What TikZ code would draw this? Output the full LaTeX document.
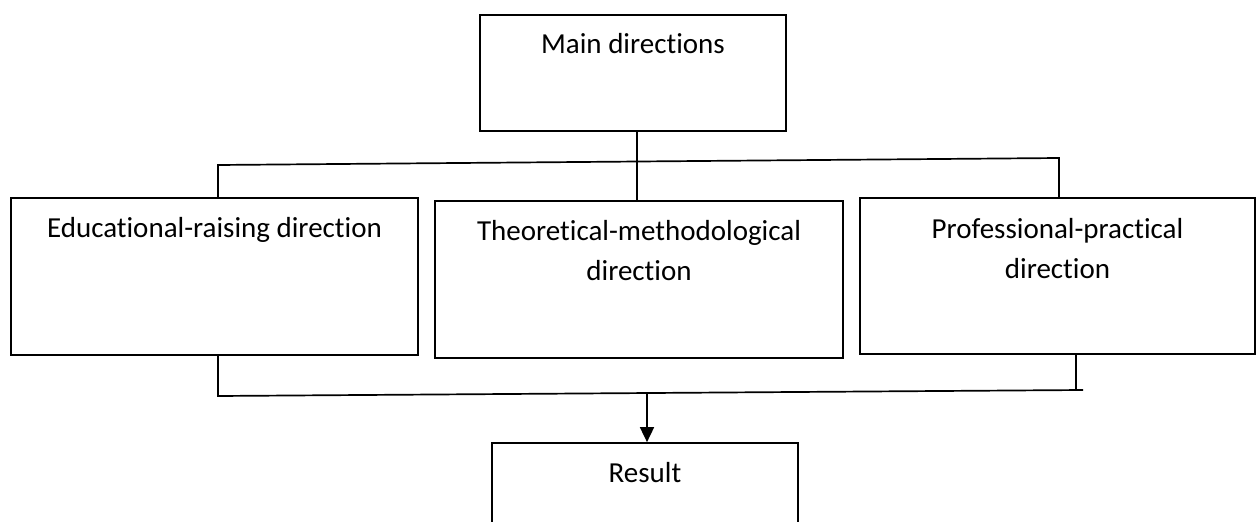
\documentclass[tikz,border=0pt]{standalone}
\usepackage{fontspec}
\setmainfont{Carlito}[Ligatures={NoCommon}]
\usetikzlibrary{arrows.meta}
\begin{document}
\begin{tikzpicture}[x=1pt,y=-1pt,
  box/.style={draw, line width=1.7pt, rectangle, inner sep=0pt},
  txt/.style={anchor=base, align=center, inner sep=0pt, font=\fontsize{29}{40}\selectfont},
  wire/.style={line width=1.7pt}]
\useasboundingbox (0,0) rectangle (1256,522);
\clip (0,0) rectangle (1256,522);
\fill[white] (0,0) rectangle (1256,522);
% boxes
\node[box, minimum width=306pt, minimum height=116pt] (main) at (633,73) {};
\node[box, minimum width=407pt, minimum height=157pt] (left) at (214.5,276.5) {};
\node[box, minimum width=408pt, minimum height=157pt] (mid) at (639,279.5) {};
\node[box, minimum width=395pt, minimum height=156pt] (right) at (1057.5,276) {};
\node[box, minimum width=306pt, minimum height=130pt] (res) at (645,508) {};
% texts
\node[txt] (tmain) at (633,53) {Main directions};
\node[txt] (tleft) at (214.5,237) {Educational-raising direction};
\node[txt] (tmid) at (639,280) {Theoretical-methodological\\direction};
\node[txt] (tright) at (1057.5,278) {Professional-practical\\direction};
\node[txt] (tres) at (645,482) {Result};
% top bus
\coordinate (bl) at (218,165);
\coordinate (br) at (1059,158);
\coordinate (bm) at (637,161.5);
\draw[wire] (bl |- left.north) -- (bl) -- (br) -- (br |- right.north);
\draw[wire] (main.south -| bm) -- (mid.north -| bm);
% bottom bus
\coordinate (ql) at (218,396);
\coordinate (qr) at (1083,390);
\coordinate (qv) at (1076,390.4);
\coordinate (qa) at (647,392.6);
\draw[wire] (left.south -| ql) -- (ql) -- (qr);
\draw[wire] (right.south -| qv) -- (qv);
\draw[wire, -{Triangle[length=15pt,width=14pt]}] (qa) -- (res.north -| qa);
\end{tikzpicture}
\end{document}
